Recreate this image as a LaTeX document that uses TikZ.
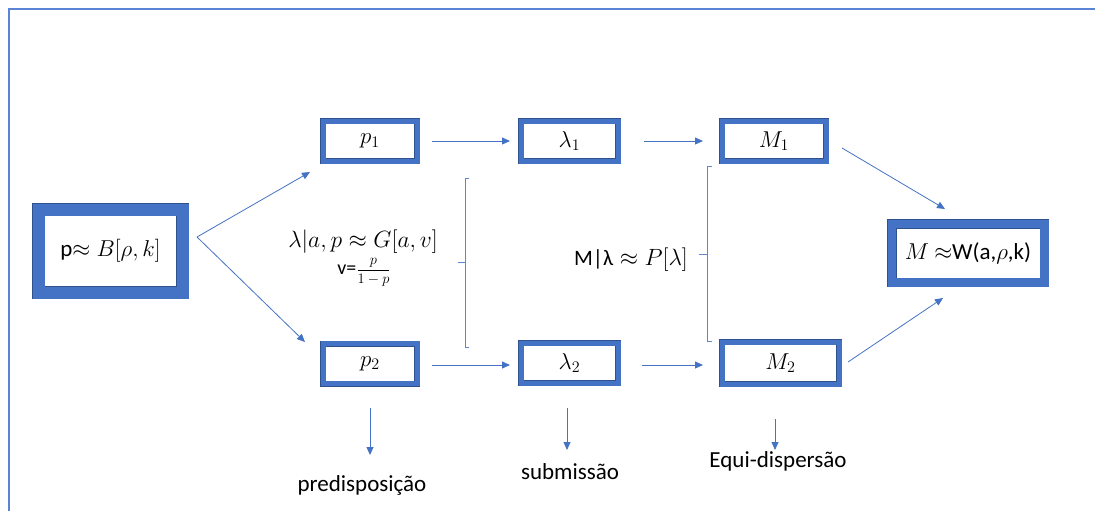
\documentclass[tikz,border=0pt]{standalone}
\usepackage{fix-cm}
\usepackage[no-math]{fontspec}
\setmainfont{Carlito}
\usetikzlibrary{arrows.meta}
\definecolor{boxblue}{HTML}{4472C4}
\definecolor{boxdark}{HTML}{2F528F}
\definecolor{lineblue}{HTML}{4472C4}
\definecolor{framecol}{HTML}{5B84D6}
\begin{document}
\begin{tikzpicture}[x=1pt,y=-1pt,
  bx/.style n args={2}{draw=boxdark, line width=0.5pt, double=boxblue,
    double distance=#1, outer sep=#2, inner sep=0pt,
    font=\fontsize{23}{27}\selectfont},
  arr/.style={draw=lineblue, line width=0.8pt, -{Triangle[length=8pt,width=7pt]}},
  brc/.style={draw=lineblue!85, line width=0.8pt},
  lbl/.style={font=\fontsize{23}{27}\selectfont, anchor=base, inner sep=0pt},
  mth/.style={font=\fontsize{23.5}{28}\selectfont, anchor=base, inner sep=0pt}]
\useasboundingbox (0,0) rectangle (1095,511);
% frame
\draw[framecol, line width=2pt] (1095,9) -- (9,9) -- (9,511);

% boxes
\node[bx={12pt}{6.5pt}, minimum width=144pt, minimum height=83pt] (B) at (110.5,251)
  {p$\mathord{\approx}\;B[\rho,k]$};
\node[bx={5pt}{3pt}, minimum width=94pt, minimum height=40pt] (p1) at (370,141) {$p_1$};
\node[bx={5pt}{3pt}, minimum width=94pt, minimum height=40pt] (p2) at (370,363.5) {$p_2$};
\node[bx={5pt}{3pt}, minimum width=97pt, minimum height=40pt] (l1) at (569.5,141) {$\lambda_1$};
\node[bx={5pt}{3pt}, minimum width=97pt, minimum height=40pt] (l2) at (569.5,363) {$\lambda_2$};
\node[bx={5pt}{3pt}, minimum width=104pt, minimum height=40pt] (M1) at (774,141) {$M_1$};
\node[bx={5pt}{3pt}, minimum width=117pt, minimum height=42pt] (M2) at (780.5,363) {$M_2$};
\node[bx={8.5pt}{4.75pt}, minimum width=152.5pt, minimum height=58.5pt] (W) at (968,253)
  {$M\ \mathord{\approx}$W(a,$\rho$,k)};

% connectors
\draw[arr] ([shift={(8,-14)}]B.east) -- ([shift={(-10,8)}]p1.south west);
\draw[arr] ([shift={(8,-14)}]B.east) -- ([shift={(-15,1.5)}]p2.north west);
\draw[arr] ([xshift=12pt]p1.east) -- ([xshift=-8pt]l1.west);
\draw[arr] ([xshift=23pt]l1.east) -- ([xshift=-16pt]M1.west);
\draw[arr] ([shift={(12,1.5)}]p2.east) -- ([shift={(-8,2)}]l2.west);
\draw[arr] ([shift={(21,2)}]l2.east) -- ([shift={(-16,2)}]M2.west);
\draw[arr] ([shift={(13,7)}]M1.east) -- ([shift={(-23,-10)}]W.north);
\draw[arr] ([shift={(6,-1)}]M2.east) -- ([shift={(-25,11)}]W.south);

% down arrows and labels
\node[lbl] (pred) at (362,491) {predisposição};
\node[lbl] (subm) at (570,479) {submissão};
\node[lbl] (equi) at (778,467) {Equi-dispersão};
\coordinate (predt) at (370,455);
\coordinate (submt) at (567,450);
\coordinate (equit) at (775,450);
\draw[arr] (p2.south |- 0,408) -- (predt);
\draw[arr] (submt |- 0,408) -- (submt);
\draw[arr] (equit |- 0,419) -- (equit);

% braces
\draw[brc] (469,178) -- (465,178) -- (465,347) -- (469,347);
\draw[brc] (465,262) -- (458,262);
\draw[brc] (712,166) -- (707,166) -- (707,341) -- (712,341);
\draw[brc] (707,254) -- (699,254);

% brace texts
\node[mth] (lam) at (363,247) {$\lambda|a,p\approx G[a,v]$};
\node[anchor=base, inner sep=0pt] (vfr) at (364,274)
  {{\fontsize{20}{24}\selectfont v=}{\fontsize{14.5}{17}\selectfont$\displaystyle\frac{p}{1-p}$}};
\node[mth] (mlam) at (631,265) {{\fontsize{22}{26}\selectfont M|λ}$\;\approx P[\lambda]$};
\end{tikzpicture}
\end{document}
